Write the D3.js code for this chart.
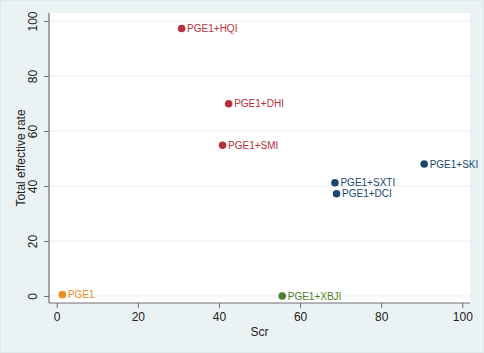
<!DOCTYPE html>
<html>
<head>
<meta charset="utf-8">
<script src="https://cdn.jsdelivr.net/npm/d3@7"></script>
<style>
  body { margin: 0; background: #fff; }
  svg { display: block; font-family: "Liberation Sans", Arial, sans-serif; }
</style>
</head>
<body>
<svg id="chart" width="484" height="353"></svg>
<script>
// values
const labels = ["PGE1", "PGE1+HQI", "PGE1+DHI", "PGE1+SMI", "PGE1+SKI", "PGE1+SXTI", "PGE1+DCI", "PGE1+XBJI"];
const scr = [1.4, 30.8, 42.4, 40.9, 90.6, 68.6, 69.0, 55.6];
const effective = [0.5, 97.3, 69.9, 54.8, 48.0, 41.2, 37.2, 0];
const groups = ["orange", "red", "red", "red", "navy", "navy", "navy", "green"];
const xTicks = [0, 20, 40, 60, 80, 100];
const yTicks = [0, 20, 40, 60, 80, 100];

const colors = {orange: "#f28c1c", red: "#b8303b", navy: "#1a476f", green: "#4e7d2a"};

const svg = d3.select("#chart");
const W = 484, H = 353;
const plot = {left: 49, right: 470, top: 13, bottom: 303};

// outer background
svg.append("rect").attr("x", 0.5).attr("y", 0.5).attr("width", W - 1).attr("height", H - 1)
    .attr("fill", "#eaf2f3").attr("stroke", "#dfe8ea");
svg.append("rect").attr("x", plot.left).attr("y", plot.top)
    .attr("width", plot.right - plot.left).attr("height", plot.bottom - plot.top)
    .attr("fill", "#fff");

const x = d3.scaleLinear().domain([0, 100]).range([56.7, 462.3]);
const y = d3.scaleLinear().domain([0, 100]).range([296, 21]);

// gridlines
svg.append("g").selectAll("line").data(yTicks).join("line")
    .attr("x1", plot.left).attr("x2", plot.right)
    .attr("y1", d => y(d)).attr("y2", d => y(d))
    .attr("stroke", "#e6eff1").attr("stroke-width", 1);

// axes
const xAxis = svg.append("g")
    .attr("transform", `translate(0,${plot.bottom})`)
    .call(d3.axisBottom(x).tickValues(xTicks).tickSize(5).tickPadding(3).tickSizeOuter(0));
const yAxis = svg.append("g")
    .attr("transform", `translate(${plot.left},0)`)
    .call(d3.axisLeft(y).tickValues(yTicks).tickSize(5).tickPadding(3).tickSizeOuter(0));

xAxis.select(".domain").attr("d", `M${plot.left},0H${plot.right}`);
yAxis.select(".domain").attr("d", `M0,${plot.top}V${plot.bottom}`);
[xAxis, yAxis].forEach(a => {
    a.selectAll(".domain").attr("stroke", "#6e6e6e").attr("stroke-width", 1.2);
    a.selectAll(".tick line").attr("stroke", "#6e6e6e");
    a.selectAll("text").attr("fill", "#222").style("font-size", "12px")
        .style("font-family", "'Liberation Sans', Arial, sans-serif");
});
xAxis.selectAll("text").attr("y", 9);
yAxis.selectAll("text")
    .attr("transform", "rotate(-90)")
    .attr("x", 0).attr("y", -12)
    .attr("dy", "0")
    .attr("text-anchor", "middle");

// axis titles
svg.append("text").attr("x", (plot.left + plot.right) / 2).attr("y", 336)
    .attr("text-anchor", "middle").attr("fill", "#222").style("font-size", "12px").text("Scr");
svg.append("text").attr("transform", `translate(25,${(plot.top + plot.bottom) / 2}) rotate(-90)`)
    .attr("text-anchor", "middle").attr("fill", "#222").style("font-size", "12px").text("Total effective rate");

// points
const data = labels.map((d, i) => ({label: d, x: scr[i], y: effective[i], g: groups[i]}));
const pts = svg.append("g").selectAll("g").data(data).join("g")
    .attr("transform", d => `translate(${x(d.x)},${y(d.y)})`);
pts.append("circle").attr("r", 3.8).attr("fill", d => colors[d.g]);
pts.append("text").attr("x", 5.5).attr("dy", "0.36em")
    .attr("fill", d => colors[d.g]).style("font-size", "10px")
    .text(d => d.label);
</script>
</body>
</html>
